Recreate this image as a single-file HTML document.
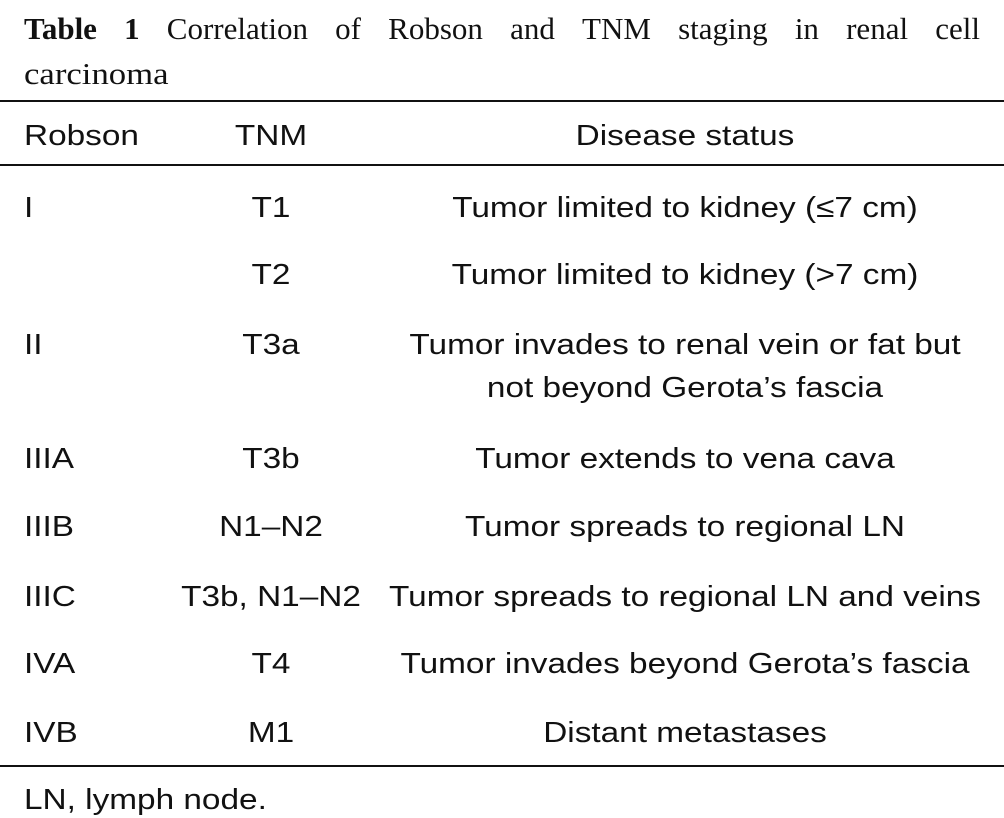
<!DOCTYPE html>
<html><head><meta charset="utf-8"><style>
body{margin:0;width:1004px;height:818px;background:#fff;position:relative;overflow:hidden;color:#111}
.t{position:absolute;font-family:"Liberation Serif",serif;font-size:31px;white-space:nowrap;line-height:1}
.s{position:absolute;font-family:"Liberation Sans",sans-serif;font-size:29px;white-space:nowrap;line-height:1;transform-origin:left center;transform:scaleX(1.15)}
.c{transform:scaleX(1.15) translateX(-50%)}
.r{position:absolute;left:0;width:1004px;background:#111}
</style></head><body>
<div class="t" style="left:24px;top:13px;width:956px;display:flex;justify-content:space-between"><b>Table</b><b>1</b><span>Correlation</span><span>of</span><span>Robson</span><span>and</span><span>TNM</span><span>staging</span><span>in</span><span>renal</span><span>cell</span></div>
<div class="t" style="left:24px;top:58px;transform-origin:left;transform:scaleX(1.12)">carcinoma</div>
<div class="r" style="top:100px;height:2px"></div>
<div class="s" style="left:24px;top:122px">Robson</div>
<div class="s c" style="left:271px;top:122px">TNM</div>
<div class="s c" style="left:685px;top:122px">Disease status</div>
<div class="r" style="top:164px;height:1.5px"></div>

<div class="s" style="left:24px;top:194px">I</div>
<div class="s c" style="left:271px;top:194px">T1</div>
<div class="s c" style="left:685px;top:194px">Tumor limited to kidney (≤7 cm)</div>

<div class="s c" style="left:271px;top:261px">T2</div>
<div class="s c" style="left:685px;top:261px">Tumor limited to kidney (&gt;7 cm)</div>

<div class="s" style="left:24px;top:331px">II</div>
<div class="s c" style="left:271px;top:331px">T3a</div>
<div class="s c" style="left:685px;top:331px">Tumor invades to renal vein or fat but</div>
<div class="s c" style="left:685px;top:374px">not beyond Gerota’s fascia</div>

<div class="s" style="left:24px;top:445px">IIIA</div>
<div class="s c" style="left:271px;top:445px">T3b</div>
<div class="s c" style="left:685px;top:445px">Tumor extends to vena cava</div>

<div class="s" style="left:24px;top:513px">IIIB</div>
<div class="s c" style="left:271px;top:513px">N1–N2</div>
<div class="s c" style="left:685px;top:513px">Tumor spreads to regional LN</div>

<div class="s" style="left:24px;top:583px">IIIC</div>
<div class="s c" style="left:271px;top:583px">T3b, N1–N2</div>
<div class="s c" style="left:685px;top:583px">Tumor spreads to regional LN and veins</div>

<div class="s" style="left:24px;top:650px">IVA</div>
<div class="s c" style="left:271px;top:650px">T4</div>
<div class="s c" style="left:685px;top:650px">Tumor invades beyond Gerota’s fascia</div>

<div class="s" style="left:24px;top:719px">IVB</div>
<div class="s c" style="left:271px;top:719px">M1</div>
<div class="s c" style="left:685px;top:719px">Distant metastases</div>

<div class="r" style="top:765px;height:1.5px"></div>
<div class="s" style="left:24px;top:786px">LN, lymph node.</div>
</body></html>
